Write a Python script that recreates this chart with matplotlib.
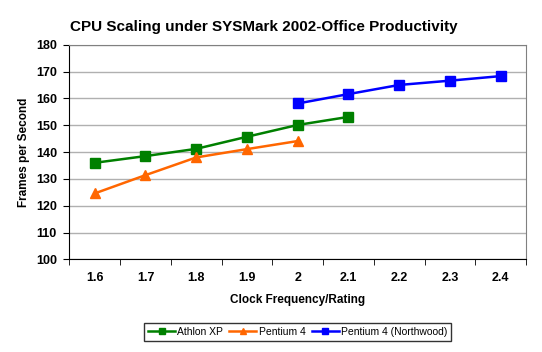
import numpy as np
import matplotlib
matplotlib.use('Agg')
import matplotlib.pyplot as plt

categories = ['1.6', '1.7', '1.8', '1.9', '2', '2.1', '2.2', '2.3', '2.4']
athlon_xp = [136.0, 138.5, 141.2, 145.7, 150.1, 153.1, None, None, None]
pentium4 = [124.6, 131.4, 138.0, 141.1, 144.1, None, None, None, None]
northwood = [None, None, None, None, 158.1, 161.6, 165.0, 166.6, 168.3]

plt.rcParams['font.family'] = ['Liberation Sans', 'DejaVu Sans']

fig = plt.figure(figsize=(5.42, 3.52), dpi=100)
ax = fig.add_axes([0.128, 0.263, 0.8425, 0.61])

x = np.arange(len(categories))


def series(vals):
    xs = [i for i, v in enumerate(vals) if v is not None]
    ys = [v for v in vals if v is not None]
    return xs, ys


xs, ys = series(athlon_xp)
ax.plot(xs, ys, color='#008000', lw=1.8, marker='s', ms=7, label='Athlon XP')
xs, ys = series(pentium4)
ax.plot(xs, ys, color='#FF6600', lw=1.8, marker='^', ms=7, label='Pentium 4')
xs, ys = series(northwood)
ax.plot(xs, ys, color='#0000FF', lw=1.8, marker='s', ms=7, label='Pentium 4 (Northwood)')

ax.set_xlim(-0.5, len(categories) - 0.5)
ax.set_ylim(100, 180)
ax.set_yticks(range(100, 181, 10))
ax.set_xticks(x)
ax.set_xticklabels(categories, fontweight='bold')
ax.set_yticklabels([str(v) for v in range(100, 181, 10)], fontweight='bold')
ax.set_xticks(np.arange(-0.5, len(categories)), minor=True)
ax.tick_params(axis='x', which='major', length=0, pad=9, labelsize=9)
ax.tick_params(axis='x', which='minor', length=4, direction='out', color='black')
ax.tick_params(axis='y', length=4, direction='out', labelsize=9, pad=5)
ax.yaxis.grid(True, color='#b0b0b0', lw=1)
ax.set_axisbelow(True)
for s in ['top', 'right']:
    ax.spines[s].set_color('#808080')
for s in ['left', 'bottom']:
    ax.spines[s].set_color('black')

ax.set_title('CPU Scaling under SYSMark 2002-Office Productivity',
             fontsize=11, fontweight='bold', x=0.425, pad=10)
ax.set_xlabel('Clock Frequency/Rating', fontsize=8.5, fontweight='bold', labelpad=7)
ax.set_ylabel('Frames per Second', fontsize=8.5, fontweight='bold', labelpad=4)

fig.legend(loc='center', bbox_to_anchor=(0.549, 0.057), ncol=3, fontsize=7.5,
           frameon=True, fancybox=False, edgecolor='black', handlelength=2.6,
           handletextpad=0.2, columnspacing=0.6, markerscale=0.6,
           borderpad=0.35)

fig.savefig('out.png', dpi=100)
